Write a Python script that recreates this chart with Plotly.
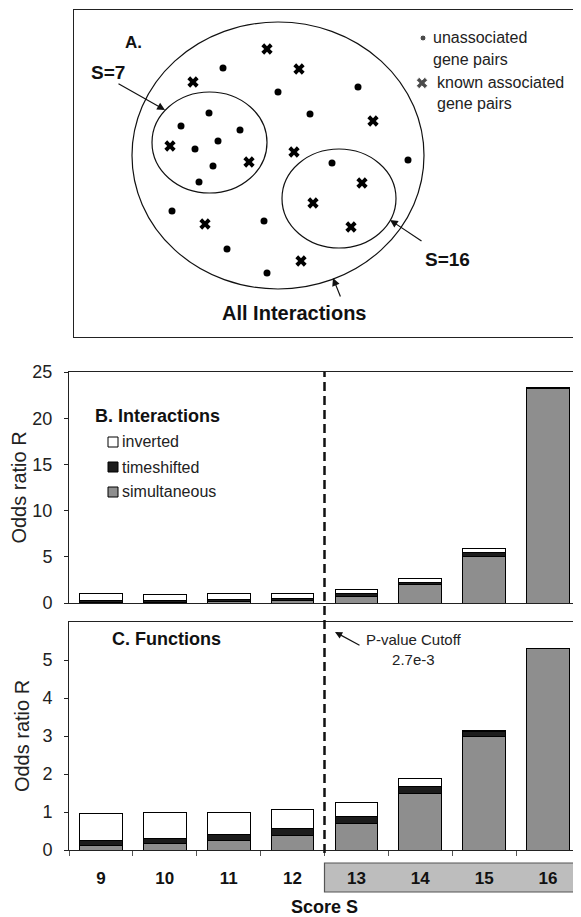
import plotly.graph_objects as go

# page body has an 8px margin, so the figure is drawn 8px in from the window corner
OFF = 8
W, H = 581 - OFF, 917 - OFF

scores = [9, 10, 11, 12, 13, 14, 15, 16]
score_labels = ['9', '10', '11', '12', '13', '14', '15', '16']

# B. Interactions - odds ratio, stacked
b_simultaneous = [0.08, 0.08, 0.15, 0.30, 0.75, 2.00, 5.00, 23.20]
b_timeshifted = [0.17, 0.17, 0.20, 0.20, 0.30, 0.20, 0.50, 0.10]
b_inverted = [0.75, 0.70, 0.70, 0.55, 0.45, 0.50, 0.45, 0.00]

# C. Functions - odds ratio, stacked
c_simultaneous = [0.11, 0.17, 0.25, 0.38, 0.70, 1.50, 3.00, 5.31]
c_timeshifted = [0.14, 0.14, 0.15, 0.18, 0.18, 0.16, 0.11, 0.00]
c_inverted = [0.72, 0.67, 0.59, 0.50, 0.37, 0.22, 0.04, 0.00]

cutoff_score = 12.5

# A. sketch of gene pairs (sketch coordinates)
dot_x = [223, 278, 358, 310, 209, 181, 240, 218, 195, 213, 199, 332, 408, 172, 264, 227, 267]
dot_y = [68, 92, 87, 114, 113, 126, 130, 141, 149, 166, 182, 163, 160, 211, 221, 249, 273]
cross_x = [267, 299, 193, 373, 170, 249, 294, 362, 313, 351, 205, 301]
cross_y = [49, 69, 82, 121, 146, 162, 152, 183, 203, 227, 224, 261]

GRAY = '#8e8e8e'
DARK = '#1c1c1c'
FONT = 'Arial, Liberation Sans, sans-serif'


def px(x):
    return (x - OFF) / W


def py(y):
    return 1 - (y - OFF) / H


fig = go.Figure()

series = [('simultaneous', GRAY), ('timeshifted', DARK), ('inverted', 'white')]
for (name, color), b_vals, c_vals in zip(series, [b_simultaneous, b_timeshifted, b_inverted],
                                         [c_simultaneous, c_timeshifted, c_inverted]):
    fig.add_trace(go.Bar(x=scores, y=b_vals, name=name, marker_color=color, width=0.67,
                         marker_line=dict(color='black', width=1), xaxis='x', yaxis='y', showlegend=False))
    fig.add_trace(go.Bar(x=scores, y=c_vals, name=name, marker_color=color, width=0.67,
                         marker_line=dict(color='black', width=1), xaxis='x2', yaxis='y2', showlegend=False))

fig.add_trace(go.Scatter(x=dot_x, y=dot_y, mode='markers', xaxis='x3', yaxis='y3', showlegend=False,
                         marker=dict(symbol='circle', size=7, color='black')))
fig.add_trace(go.Scatter(x=cross_x, y=cross_y, mode='markers', xaxis='x3', yaxis='y3', showlegend=False,
                         marker=dict(symbol='x', size=10, color='black')))
# key symbols of panel A
fig.add_trace(go.Scatter(x=[423, 422], y=[38, 83], mode='markers', xaxis='x3', yaxis='y3', showlegend=False,
                         marker=dict(symbol=['circle', 'x'], size=[6, 10], color='black')))

plot_dom = [px(69), px(580)]
axis_common = dict(showline=True, linecolor='#222', linewidth=1, mirror=True, showgrid=False, zeroline=False,
                   automargin=False)
ytick_font = dict(family=FONT, size=18, color='#222')
ytitle = dict(text='Odds ratio R', font=dict(family=FONT, size=20, color='#222'), standoff=7)

fig.update_layout(
    width=W, height=H, margin=dict(l=0, r=0, t=0, b=0),
    plot_bgcolor='white', paper_bgcolor='white', barmode='stack',
    font=dict(family=FONT, color='#222'),
    xaxis=dict(domain=plot_dom, anchor='y', range=[8.5, 16.5], showticklabels=False, ticks='', **axis_common),
    yaxis=dict(domain=[py(603), py(372)], anchor='x', range=[0, 25], tickvals=[0, 5, 10, 15, 20, 25],
               ticks='outside', ticklen=4, tickcolor='#222', tickfont=ytick_font, ticklabelstandoff=8,
               title=ytitle, **axis_common),
    xaxis2=dict(domain=plot_dom, anchor='y2', range=[8.5, 16.5], tickvals=scores, ticktext=score_labels,
                ticks='', tickfont=dict(family=FONT, size=17, color='#111', weight='bold'),
                ticklabelstandoff=13,
                minor=dict(tickvals=[s - 0.5 for s in scores] + [scores[-1] + 0.5], ticks='outside',
                           ticklen=5, tickcolor='#555'),
                title=dict(text='Score S', font=dict(family=FONT, size=18, color='#111', weight='bold'),
                           standoff=14),
                **axis_common),
    yaxis2=dict(domain=[py(850), py(622)], anchor='x2', range=[0, 6], tickvals=[0, 1, 2, 3, 4, 5],
                ticks='outside', ticklen=4, tickcolor='#222', tickfont=ytick_font, ticklabelstandoff=8,
                title=ytitle, **axis_common),
    xaxis3=dict(domain=[px(74), px(578)], anchor='y3', range=[74, 578], showticklabels=False, ticks='',
                **axis_common),
    yaxis3=dict(domain=[py(337), py(10)], anchor='x3', range=[337, 10], showticklabels=False, ticks='',
                **axis_common),
)

# ellipses of panel A
for x0, y0, x1, y1 in [(132, 22, 424, 289), (152, 92, 267, 193), (282, 149, 396, 248)]:
    fig.add_shape(type='circle', xref='x3', yref='y3', x0=x0, y0=y0, x1=x1, y1=y1,
                  line=dict(color='#111', width=1.2), layer='below')

# p-value cutoff
fig.add_shape(type='line', xref='x2', yref='paper', x0=cutoff_score, x1=cutoff_score, y0=py(853), y1=py(372),
              line=dict(color='#111', width=2.5, dash='9px,5px'))
# shaded significant scores under the axis
fig.add_shape(type='rect', xref='x2', yref='paper', x0=cutoff_score, x1=17.2, y0=py(892), y1=py(863),
              fillcolor='#bdbdbd', line=dict(color='#555', width=1.2), layer='below')

# legend of panel B
for name, color, yc in [('inverted', 'white', 442), ('timeshifted', DARK, 467), ('simultaneous', GRAY, 492)]:
    fig.add_shape(type='rect', xref='paper', yref='paper', x0=px(108), x1=px(118), y0=py(yc + 5), y1=py(yc - 5),
                  fillcolor=color, line=dict(color='black', width=1))
    fig.add_annotation(x=px(120), y=py(yc), xref='paper', yref='paper', text=name, showarrow=False,
                       xanchor='left', font=dict(family=FONT, size=16, color='#222'))

bold = dict(family=FONT, color='#111', weight='bold')
fig.add_annotation(x=px(93), y=py(416), xref='paper', yref='paper', text='B. Interactions', showarrow=False,
                   xanchor='left', font=dict(size=18, **bold))
fig.add_annotation(x=px(110), y=py(651), xref='paper', yref='paper', text='C. Functions', showarrow=False,
                   xanchor='left', font=dict(size=18, **bold))
fig.add_annotation(x=px(414), y=py(670), xref='paper', yref='paper', text='P-value Cutoff<br>2.7e-3',
                   showarrow=False, xanchor='center', font=dict(family=FONT, size=15, color='#222'))
fig.add_annotation(x=px(335), y=py(632), ax=26, ay=14, xref='paper', yref='paper',
                   text='', showarrow=True, arrowhead=2, arrowsize=1.2,
                   arrowwidth=1.2, arrowcolor='#111')

# panel A texts and arrows
for text, x, y, size in [('A.', 133, 43, 17), ('S=7', 108, 73, 19), ('S=16', 447, 260, 19),
                         ('All Interactions', 294, 313, 20)]:
    fig.add_annotation(x=x, y=y, xref='x3', yref='y3', text=text, showarrow=False, xanchor='center',
                       font=dict(size=size, **bold))
for text, x, y in [('unassociated', 431, 38), ('gene pairs', 431, 60), ('known associated', 435, 83),
                   ('gene pairs', 435, 104)]:
    fig.add_annotation(x=x, y=y, xref='x3', yref='y3', text=text, showarrow=False, xanchor='left',
                       font=dict(family=FONT, size=16, color='#222'))
for hx, hy, tx, ty in [(165, 110, 117, 83), (390, 220, 423, 242), (333, 278, 341, 298)]:
    fig.add_annotation(x=hx, y=hy, ax=tx, ay=ty, xref='x3', yref='y3', axref='x3', ayref='y3', text='',
                       showarrow=True, arrowhead=2, arrowsize=1.3, arrowwidth=1.2, arrowcolor='#111')

fig.write_html("out.html")
